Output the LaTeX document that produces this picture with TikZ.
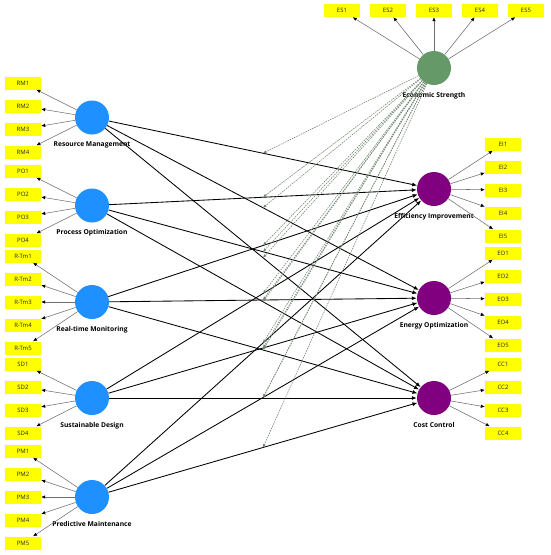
\documentclass[tikz,border=0pt]{standalone}
\usepackage{fontspec}
\setmainfont{Open Sans}[BoldFont={* Bold}]
\usepackage{tikz}
\usetikzlibrary{arrows.meta, positioning}
\definecolor{lvblue}{RGB}{30,144,255}
\definecolor{lvpurple}{RGB}{128,0,128}
\definecolor{lvgreen}{RGB}{102,153,104}
\definecolor{indyellow}{RGB}{255,255,0}
\definecolor{loadgray}{RGB}{110,110,110}
\definecolor{modgreen}{RGB}{115,135,115}

\begin{document}
\begin{tikzpicture}[
      x=1pt, y=-1pt,
      lv/.style={circle, minimum size=34pt, inner sep=0pt},
      exo/.style={lv, fill=lvblue},
      endo/.style={lv, fill=lvpurple},
      moder/.style={lv, fill=lvgreen},
      ind/.style={fill=indyellow, minimum width=36pt, minimum height=13pt,
                  inner sep=0pt, text=black!85,
                  font=\fontsize{6}{6.5}\selectfont},
      lab/.style={font=\fontsize{6.7}{7}\selectfont\bfseries, inner sep=1pt},
      load/.style={-{Latex[length=4pt, width=3.5pt, color=black]},
                   draw=loadgray, line width=0.55pt},
      relpath/.style={-{Latex[length=5pt, width=4pt]}, line width=0.85pt},
      modarrow/.style={-{Latex[length=3.5pt, width=3pt]}, draw=modgreen,
                       dash pattern=on 1.5pt off 1pt, line width=0.6pt},
    ]
    \useasboundingbox (0,0) rectangle (550,555);

    % Exogenous constructs
    \node[exo] (rm)  at (92,117.5) {};
    \node[exo] (po)  at (92,205.5) {};
    \node[exo] (rtm) at (92,302)   {};
    \node[exo] (sd)  at (92,398)   {};
    \node[exo] (pm)  at (92,497)   {};

    % Endogenous constructs and moderator
    \node[endo]  (ei) at (434,189) {};
    \node[endo]  (eo) at (434,298) {};
    \node[endo]  (cc) at (434,398) {};
    \node[moder] (es) at (434,68)  {};

    % Construct labels
    \node[lab, below=6pt of rm]  (rm-lab)  {Resource Management};
    \node[lab, below=6pt of po]  (po-lab)  {Process Optimization};
    \node[lab, below=6pt of rtm] (rtm-lab) {Real-time Monitoring};
    \node[lab, below=6pt of sd]  (sd-lab)  {Sustainable Design};
    \node[lab, below=6pt of pm]  (pm-lab)  {Predictive Maintenance};
    \node[lab, below=6pt of ei]  (ei-lab)  {Efficiency Improvement};
    \node[lab, below=6pt of eo]  (eo-lab)  {Energy Optimization};
    \node[lab, below=6pt of cc]  (cc-lab)  {Cost Control};
    \node[lab, below=6pt of es]  (es-lab)  {Economic Strength};

    % Indicators, left
    \foreach \i/\y in {1/83,2/106,3/129,4/152}
      \node[ind] (rm\i) at (23,\y) {RM\i};
    \foreach \i/\y in {1/171,2/194,3/217,4/240}
      \node[ind] (po\i) at (23,\y) {PO\i};
    \foreach \i/\y in {1/256,2/279,3/302,4/325,5/348}
      \node[ind] (rtm\i) at (23,\y) {R-Tm\i};
    \foreach \i/\y in {1/364,2/387,3/410,4/433}
      \node[ind] (sd\i) at (23,\y) {SD\i};
    \foreach \i/\y in {1/451,2/474,3/497,4/520,5/543}
      \node[ind] (pm\i) at (23,\y) {PM\i};

    % Indicators, right and top
    \foreach \i/\y in {1/144,2/167,3/190,4/213,5/236}
      \node[ind] (ei\i) at (503,\y) {EI\i};
    \foreach \i/\y in {1/253,2/276,3/299,4/322,5/345}
      \node[ind] (eo\i) at (503,\y) {EO\i};
    \foreach \i/\y in {1/364,2/387,3/410,4/433}
      \node[ind] (cc\i) at (503,\y) {CC\i};
    \foreach \i/\x in {1/342,2/388,3/434,4/480,5/526}
      \node[ind] (es\i) at (\x,10.5) {ES\i};

    % Loadings
    \foreach \i in {1,...,4} \draw[load] (rm) -- (rm\i);
    \foreach \i in {1,...,4} \draw[load] (po) -- (po\i);
    \foreach \i in {1,...,5} \draw[load] (rtm) -- (rtm\i);
    \foreach \i in {1,...,4} \draw[load] (sd) -- (sd\i);
    \foreach \i in {1,...,5} \draw[load] (pm) -- (pm\i);
    \foreach \i in {1,...,5} \draw[load] (ei) -- (ei\i);
    \foreach \i in {1,...,5} \draw[load] (eo) -- (eo\i);
    \foreach \i in {1,...,4} \draw[load] (cc) -- (cc\i);
    \foreach \i in {1,...,5} \draw[load] (es) -- (es\i);

    % Structural paths
    \foreach \s in {rm,po,rtm,sd,pm}
      \foreach \t in {ei,eo,cc}
        \draw[relpath] (\s) -- coordinate[midway] (m-\s-\t) (\t);

    % Moderating effects of economic strength
    \foreach \s in {rm,po,rtm,sd,pm}
      \foreach \t in {ei,eo,cc}
        \draw[modarrow] (es) -- (m-\s-\t);

  \end{tikzpicture}
\end{document}
